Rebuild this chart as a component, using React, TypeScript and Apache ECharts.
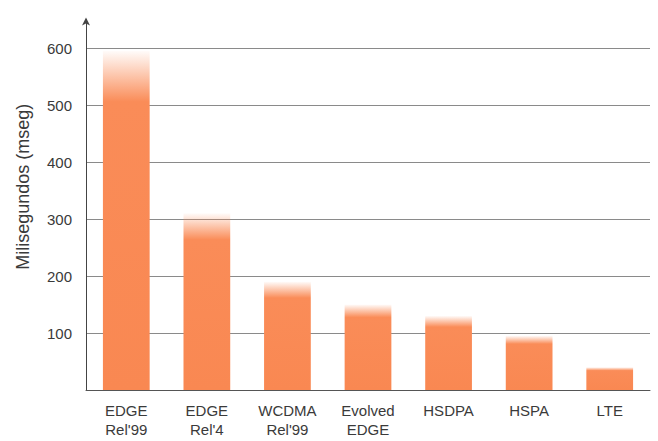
import React, { useEffect, useRef } from "react";
import * as echarts from "echarts";

const categories = ["EDGE\nRel'99", "EDGE\nRel'4", "WCDMA\nRel'99", "Evolved\nEDGE", "HSDPA", "HSPA", "LTE"];
const latencyMs = [595, 310, 190, 150, 130, 95, 40];
const yTickLabels = ["", "100", "200", "300", "400", "500", "600"];
const yAxisTitle = "Milisegundos (mseg)";

const FONT = "'Liberation Sans', Arial, Helvetica, sans-serif";

export default function App() {
  const ref = useRef<HTMLDivElement>(null);
  useEffect(() => {
    if (!ref.current) return;
    const chart = echarts.init(ref.current, null, { renderer: "svg" });
    const barColor = new echarts.graphic.LinearGradient(0, 0, 0, 1, [
      { offset: 0, color: "rgba(250,140,88,0.03)" },
      { offset: 0.05, color: "rgba(250,140,88,0.35)" },
      { offset: 0.15, color: "rgba(250,140,88,1)" },
      { offset: 1, color: "rgba(249,136,82,1)" },
    ]);
    chart.setOption({
      animation: false,
      backgroundColor: "#ffffff",
      grid: { left: 86, right: 8, top: 19.5, bottom: 51 },
      xAxis: {
        type: "category",
        data: categories,
        axisLine: { show: true, lineStyle: { color: "#555", width: 1 } },
        axisTick: { show: false },
        axisLabel: {
          color: "#3a3a3a",
          fontFamily: FONT,
          fontSize: 15,
          lineHeight: 19,
          margin: 11,
          interval: 0,
        },
      },
      yAxis: {
        type: "value",
        min: 0,
        max: 650,
        interval: 100,
        name: yAxisTitle,
        nameLocation: "middle",
        nameGap: 54,
        nameTextStyle: { color: "#3a3a3a", fontFamily: FONT, fontSize: 18, padding: [0, 0, 0, 36] },
        axisLine: {
          show: true,
          lineStyle: { color: "#444", width: 1 },
          symbol: ["none", "arrow"],
          symbolSize: [6, 8],
          symbolOffset: [0, 2],
        },
        axisTick: { show: false },
        axisLabel: {
          color: "#3a3a3a",
          fontFamily: FONT,
          fontSize: 15,
          margin: 14,
          showMaxLabel: false,
          formatter: (v: number) => {
            const i = Math.round(v / 100);
            return v % 100 === 0 && i < yTickLabels.length ? yTickLabels[i] : "";
          },
        },
        splitLine: {
          show: true,
          showMinLine: false,
          showMaxLine: false,
          lineStyle: { color: "#8a8a8a", width: 1 },
        },
      },
      series: [
        {
          type: "bar",
          data: latencyMs,
          barWidth: "58%",
          itemStyle: { color: barColor },
        },
      ],
    });
    return () => chart.dispose();
  }, []);
  return <div ref={ref} style={{ width: 658, height: 441, position: "absolute", left: 0, top: 0 }} />;
}
